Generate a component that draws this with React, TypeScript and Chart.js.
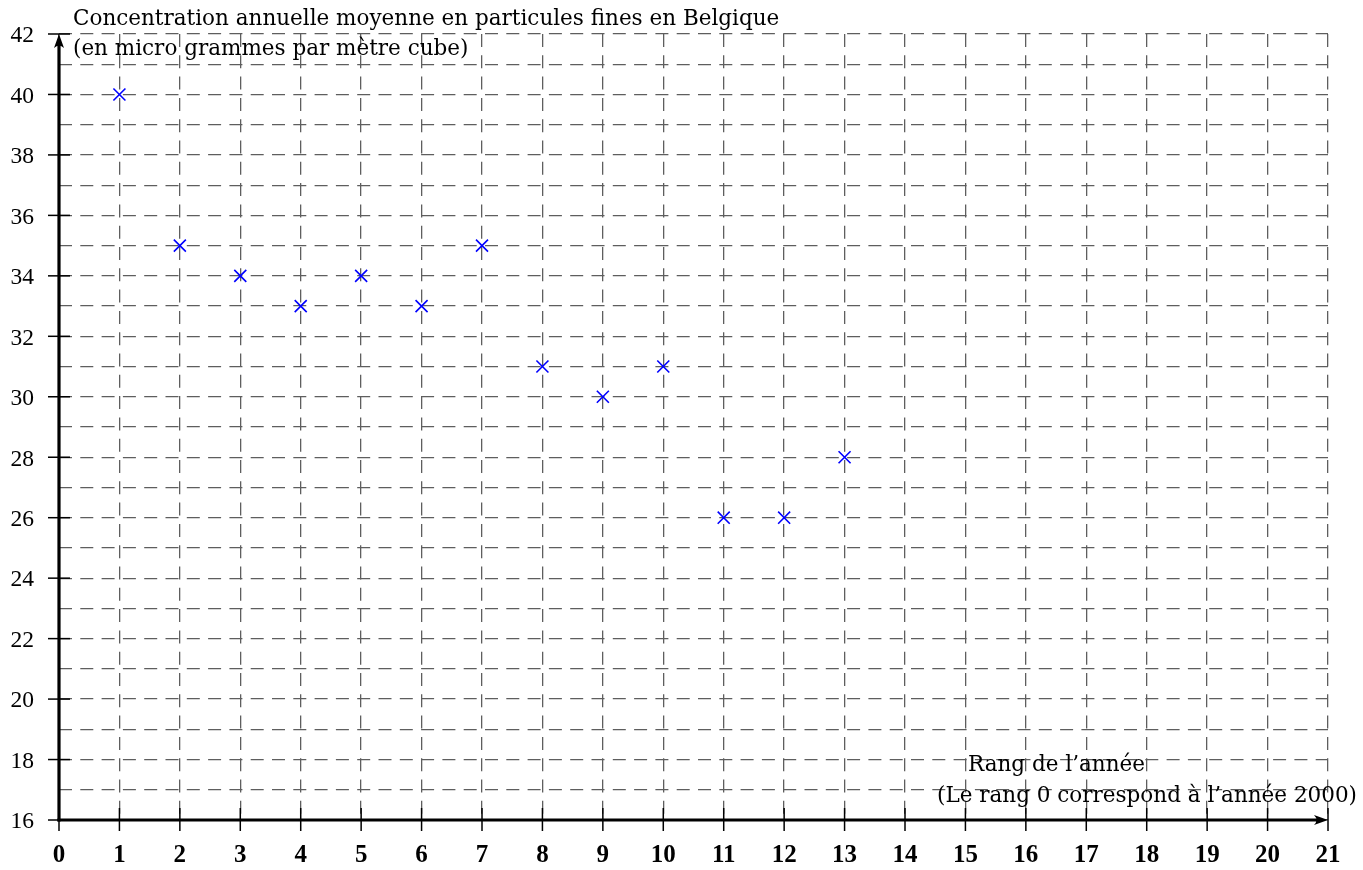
import { useEffect, useRef } from 'react';
import { Chart, registerables } from 'chart.js';

Chart.register(...registerables);

// ---- data ----
const yearRanks = [1, 2, 3, 4, 5, 6, 7, 8, 9, 10, 11, 12, 13];
const concentrations = [40, 35, 34, 33, 34, 33, 35, 31, 30, 31, 26, 26, 28];
const xRange = [0, 21];
const yRange = [16, 42];
const xTickLabels = ['0', '1', '2', '3', '4', '5', '6', '7', '8', '9', '10', '11', '12', '13', '14', '15', '16', '17', '18', '19', '20', '21'];
const yTickLabels = ['16', '18', '20', '22', '24', '26', '28', '30', '32', '34', '36', '38', '40', '42'];
const yTitleLines = [
  'Concentration annuelle moyenne en particules fines en Belgique',
  '(en micro grammes par mètre cube)',
];
const xTitleLines = ['Rang de l’année', '(Le rang 0 correspond à l’année 2000)'];

const FONT = '"DejaVu Serif", serif';
const NUM_FONT = '"Liberation Serif", serif';

const axesPlugin = {
  id: 'axesDecor',
  afterDraw(chart: any) {
    const { ctx } = chart;
    const x = chart.scales.x;
    const y = chart.scales.y;
    const x0 = x.getPixelForValue(xRange[0]);
    const x1 = x.getPixelForValue(xRange[1]);
    const y0 = y.getPixelForValue(yRange[0]);
    const y1 = y.getPixelForValue(yRange[1]);
    const line = (ax: number, ay: number, bx: number, by: number) => {
      ctx.beginPath();
      ctx.moveTo(ax, ay);
      ctx.lineTo(bx, by);
      ctx.stroke();
    };
    ctx.save();
    ctx.setLineDash([]);
    ctx.strokeStyle = '#000';
    ctx.lineWidth = 1.5;
    yTickLabels.forEach((t) => {
      const py = y.getPixelForValue(Number(t));
      line(x0 - 11, py, x0 + 11, py);
    });
    xTickLabels.forEach((t) => {
      const px = x.getPixelForValue(Number(t));
      line(px, y0 - 12, px, y0 + 11);
    });
    // axes
    ctx.lineWidth = 3.2;
    line(x0, y0 + 1.6, x0, y1 + 6);
    line(x0 - 1.6, y0, x1 - 6, y0);
    // arrow heads
    ctx.fillStyle = '#000';
    ctx.beginPath();
    ctx.moveTo(x1, y0);
    ctx.lineTo(x1 - 14, y0 - 5);
    ctx.quadraticCurveTo(x1 - 9, y0, x1 - 14, y0 + 5);
    ctx.closePath();
    ctx.fill();
    ctx.beginPath();
    ctx.moveTo(x0, y1);
    ctx.lineTo(x0 - 5, y1 + 14);
    ctx.quadraticCurveTo(x0, y1 + 9, x0 + 5, y1 + 14);
    ctx.closePath();
    ctx.fill();
    // tick labels
    ctx.textBaseline = 'alphabetic';
    ctx.font = `bold 25px ${NUM_FONT}`;
    ctx.textAlign = 'center';
    xTickLabels.forEach((t) => {
      ctx.fillText(t, x.getPixelForValue(Number(t)), y0 + 41.5);
    });
    ctx.font = `23.5px ${NUM_FONT}`;
    ctx.textAlign = 'right';
    yTickLabels.forEach((t) => {
      ctx.fillText(t, x0 - 25, y.getPixelForValue(Number(t)) + 8.3);
    });
    // titles
    ctx.font = `21.5px ${FONT}`;
    ctx.textAlign = 'left';
    ctx.fillText(yTitleLines[0], x0 + 14, 25);
    ctx.fillText(yTitleLines[1], x0 + 14, 55);
    ctx.fillText(xTitleLines[0], 968, 771);
    ctx.fillText(xTitleLines[1], 937, 802);
    ctx.restore();
  },
};

export default function App() {
  const ref = useRef<HTMLCanvasElement>(null);
  useEffect(() => {
    if (!ref.current) return;
    const gridColor = '#5e5e5e';
    const dash = [13, 8.3];
    const chart = new Chart(ref.current, {
      type: 'scatter',
      data: {
        datasets: [
          {
            data: yearRanks.map((r, i) => ({ x: r, y: concentrations[i] })),
            pointStyle: 'crossRot',
            pointRadius: 8.5,
            pointHoverRadius: 8.5,
            borderColor: '#0000ff',
            backgroundColor: '#0000ff',
            borderWidth: 1.6,
            showLine: false,
          },
        ],
      },
      options: {
        responsive: false,
        animation: false,
        events: [],
        layout: { padding: { top: 34, right: 35, left: 0, bottom: 0 } },
        plugins: { legend: { display: false }, tooltip: { enabled: false }, title: { display: false } },
        scales: {
          x: {
            type: 'linear',
            min: xRange[0],
            max: xRange[1],
            ticks: { stepSize: 1, autoSkip: false, display: false },
            grid: { color: gridColor, lineWidth: 1.3, drawTicks: false },
            border: { display: false, dash },
            afterFit: (s: any) => {
              s.height = 50;
            },
          },
          y: {
            type: 'linear',
            min: yRange[0],
            max: yRange[1],
            ticks: { stepSize: 1, autoSkip: false, display: false },
            grid: { color: gridColor, lineWidth: 1.3, drawTicks: false },
            border: { display: false, dash },
            afterFit: (s: any) => {
              s.width = 59;
            },
          },
        },
      },
      plugins: [axesPlugin],
    });
    return () => chart.destroy();
  }, []);
  return (
    <canvas
      ref={ref}
      width={1363}
      height={870}
      style={{ position: 'absolute', left: 0, top: 0, width: 1363, height: 870 }}
    />
  );
}
